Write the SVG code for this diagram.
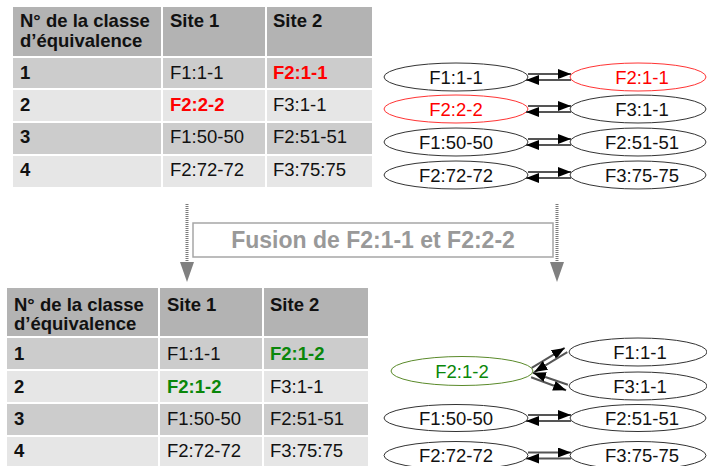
<svg xmlns="http://www.w3.org/2000/svg" width="707" height="466" viewBox="0 0 707 466">
<style>
text{font-family:"Liberation Sans",Arial,sans-serif;font-size:18.5px;fill:#111}
.b{font-weight:bold}
.red{fill:#ff0000;font-weight:bold}
.grn{fill:#0a870a;font-weight:bold}
.hd{fill:#b3b3b3}
.odd{fill:#cccccc}
.even{fill:#e6e6e6}
.sep{stroke:#ffffff;stroke-width:2}
.node ellipse{fill:#ffffff;stroke:#333333;stroke-width:1}
.node text{text-anchor:middle}
.rednode ellipse{stroke:#ff3333}
.rednode text{fill:#ff0000}
.grnnode ellipse{stroke:#5a8a2a}
.grnnode text{fill:#0a870a}
.edge{stroke:#555555;stroke-width:2;fill:none;marker-end:url(#ah)}
.dot{stroke:#7a7a7a;stroke-width:3;stroke-dasharray:1 1}
</style>
<defs>
<marker id="ah" markerUnits="userSpaceOnUse" markerWidth="15" markerHeight="11" refX="13" refY="5" orient="auto">
<path d="M0,0 L13,5 L0,10 z" fill="#000000"/>
</marker>
<marker id="gah" markerUnits="userSpaceOnUse" markerWidth="15" markerHeight="21" refX="7" refY="0" orient="0">
<path d="M0,0 L14,0 L7,20 z" fill="#808080"/>
</marker>
</defs>
<rect width="707" height="466" fill="#ffffff"/>

<!-- Top table -->
<g id="table-before">
<rect class="hd" x="13" y="7" width="359" height="50"/>
<rect class="odd" x="13" y="57" width="359" height="32"/>
<rect class="even" x="13" y="89" width="359" height="33"/>
<rect class="odd" x="13" y="122" width="359" height="33"/>
<rect class="even" x="13" y="155" width="359" height="32"/>
<line class="sep" x1="162" y1="7" x2="162" y2="187"/>
<line class="sep" x1="266" y1="7" x2="266" y2="187"/>
<line class="sep" x1="13" y1="57" x2="372" y2="57"/>
<line class="sep" x1="13" y1="89" x2="372" y2="89"/>
<line class="sep" x1="13" y1="122" x2="372" y2="122"/>
<line class="sep" x1="13" y1="155" x2="372" y2="155"/>
<text class="b" x="20" y="27">N° de la classe</text>
<text class="b" x="20" y="47">d’équivalence</text>
<text class="b" x="170" y="27">Site 1</text>
<text class="b" x="273" y="27">Site 2</text>
<text class="b" x="20" y="78.5">1</text>
<text x="170" y="78.5">F1:1-1</text>
<text class="red" x="273" y="78.5">F2:1-1</text>
<text class="b" x="20" y="110.5">2</text>
<text class="red" x="170" y="110.5">F2:2-2</text>
<text x="273" y="110.5">F3:1-1</text>
<text class="b" x="20" y="143">3</text>
<text x="170" y="143">F1:50-50</text>
<text x="273" y="143">F2:51-51</text>
<text class="b" x="20" y="176">4</text>
<text x="170" y="176">F2:72-72</text>
<text x="273" y="176">F3:75:75</text>
</g>

<!-- Top graph nodes -->
<g id="t-f1-1-1" class="node"><ellipse cx="456" cy="77" rx="72" ry="14"/><text x="456" y="83.5">F1:1-1</text></g>
<g id="t-f2-1-1" class="node rednode"><ellipse cx="638" cy="77" rx="68" ry="14"/><text x="642" y="83.5">F2:1-1</text></g>
<g id="t-f2-2-2" class="node rednode"><ellipse cx="456" cy="109" rx="72" ry="14"/><text x="456" y="115.5">F2:2-2</text></g>
<g id="t-f3-1-1" class="node"><ellipse cx="638" cy="109" rx="68" ry="14"/><text x="642" y="115.5">F3:1-1</text></g>
<g id="t-f1-50-50" class="node"><ellipse cx="456" cy="142" rx="72" ry="14"/><text x="456" y="148.5">F1:50-50</text></g>
<g id="t-f2-51-51" class="node"><ellipse cx="638" cy="142" rx="68" ry="14"/><text x="642" y="148.5">F2:51-51</text></g>
<g id="t-f2-72-72" class="node"><ellipse cx="456" cy="175" rx="72" ry="14"/><text x="456" y="181.5">F2:72-72</text></g>
<g id="t-f3-75-75" class="node"><ellipse cx="638" cy="175" rx="68" ry="14"/><text x="642" y="181.5">F3:75-75</text></g>

<!-- Fusion label -->
<g id="fusion">
<rect x="193" y="223" width="360" height="34" fill="#ffffff" stroke="#a6a6a6" stroke-width="1.5"/>
<text x="373" y="248" text-anchor="middle" style="font-weight:bold;font-size:23px;fill:#999999">Fusion de F2:1-1 et F2:2-2</text>
</g>

<!-- Bottom table -->
<g id="table-after">
<rect class="hd" x="7" y="288" width="361" height="49"/>
<rect class="odd" x="7" y="337" width="361" height="33"/>
<rect class="even" x="7" y="370" width="361" height="33"/>
<rect class="odd" x="7" y="403" width="361" height="33"/>
<rect class="even" x="7" y="436" width="361" height="32"/>
<line class="sep" x1="159" y1="288" x2="159" y2="468"/>
<line class="sep" x1="263" y1="288" x2="263" y2="468"/>
<line class="sep" x1="7" y1="337" x2="368" y2="337"/>
<line class="sep" x1="7" y1="370" x2="368" y2="370"/>
<line class="sep" x1="7" y1="403" x2="368" y2="403"/>
<line class="sep" x1="7" y1="436" x2="368" y2="436"/>
<text class="b" x="14" y="311">N° de la classe</text>
<text class="b" x="14" y="330">d’équivalence</text>
<text class="b" x="167" y="311">Site 1</text>
<text class="b" x="270" y="311">Site 2</text>
<text class="b" x="14" y="360">1</text>
<text x="167" y="360">F1:1-1</text>
<text class="grn" x="270" y="360">F2:1-2</text>
<text class="b" x="14" y="392.5">2</text>
<text class="grn" x="167" y="392.5">F2:1-2</text>
<text x="270" y="392.5">F3:1-1</text>
<text class="b" x="14" y="425">3</text>
<text x="167" y="425">F1:50-50</text>
<text x="270" y="425">F2:51-51</text>
<text class="b" x="14" y="457">4</text>
<text x="167" y="457">F2:72-72</text>
<text x="270" y="457">F3:75:75</text>
</g>

<!-- Bottom graph nodes -->
<g id="b-f2-1-2" class="node grnnode"><ellipse cx="462" cy="371" rx="71" ry="14.5"/><text x="462" y="377.5">F2:1-2</text></g>
<g id="b-f1-1-1" class="node"><ellipse cx="638" cy="352" rx="69" ry="14"/><text x="640" y="358.5">F1:1-1</text></g>
<g id="b-f3-1-1" class="node"><ellipse cx="638" cy="386" rx="69" ry="14"/><text x="640" y="392.5">F3:1-1</text></g>
<g id="b-f1-50-50" class="node"><ellipse cx="456" cy="418" rx="72" ry="13.5"/><text x="456" y="424.5">F1:50-50</text></g>
<g id="b-f2-51-51" class="node"><ellipse cx="638" cy="418" rx="68" ry="13.5"/><text x="642" y="424.5">F2:51-51</text></g>
<g id="b-f2-72-72" class="node"><ellipse cx="456" cy="455.5" rx="72" ry="14"/><text x="456" y="462">F2:72-72</text></g>
<g id="b-f3-75-75" class="node"><ellipse cx="638" cy="455.5" rx="68" ry="14"/><text x="642" y="462">F3:75-75</text></g>

<!-- Connectors -->
<g id="connectors">
<line class="dot" x1="187" y1="204" x2="187" y2="262" marker-end="url(#gah)"/>
<line class="dot" x1="557" y1="204" x2="557" y2="262" marker-end="url(#gah)"/>

<line class="edge" x1="528" y1="74" x2="571" y2="74"/>
<line class="edge" x1="571" y1="80" x2="526" y2="80"/>
<line class="edge" x1="528" y1="106" x2="571" y2="106"/>
<line class="edge" x1="571" y1="112" x2="526" y2="112"/>
<line class="edge" x1="528" y1="139" x2="571" y2="139"/>
<line class="edge" x1="571" y1="145" x2="526" y2="145"/>
<line class="edge" x1="528" y1="172" x2="571" y2="172"/>
<line class="edge" x1="571" y1="178" x2="526" y2="178"/>

<line class="edge" x1="531.7" y1="367.9" x2="564.7" y2="347.9"/>
<line class="edge" x1="567.3" y1="352.1" x2="534.3" y2="372.1"/>
<line class="edge" x1="531.1" y1="377.3" x2="566.1" y2="390.3"/>
<line class="edge" x1="567.9" y1="384.7" x2="532.9" y2="372.7"/>

<line class="edge" x1="528" y1="415" x2="571" y2="415"/>
<line class="edge" x1="571" y1="421" x2="526" y2="421"/>
<line class="edge" x1="528" y1="452.5" x2="571" y2="452.5"/>
<line class="edge" x1="571" y1="458.5" x2="526" y2="458.5"/>
</g>
</svg>
